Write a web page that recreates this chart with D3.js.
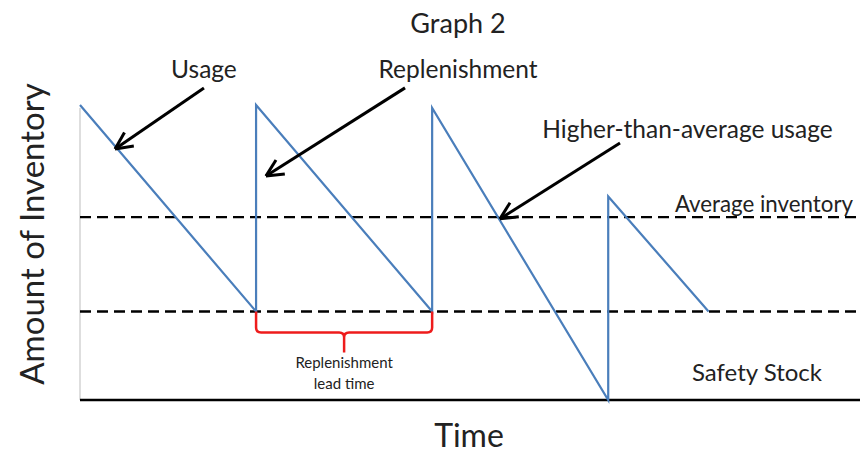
<!DOCTYPE html>
<html>
<head>
<meta charset="utf-8">
<script src="https://cdn.jsdelivr.net/npm/d3@7"></script>
<style>
  body { margin: 0; background: #fff; }
  text { font-family: Lato, "Open Sans", sans-serif; fill: #222; }
</style>
</head>
<body>
<div id="chart"></div>
<script>
// inventory over time (time in weeks, inventory in units)
const sawTime = [0, 10, 10, 20, 20, 30, 30, 35.7];
const sawLevel = [100, 30, 100, 30, 99, 0, 69, 30];
const averageInventory = 62;
const safetyStock = 30;
const leadTimeStart = 10;
const leadTimeEnd = 20;

// annotations: label position, arrow start and arrow tip (data units)
const noteLabels = ['Usage', 'Replenishment', 'Higher-than-average usage'];
const noteTextAt = [[7.04, 109.2], [21.47, 109.2], [34.5, 88.8]];
const noteFrom = [[7.04, 105.8], [18.46, 105.8], [30.67, 87.1]];
const noteTo = [[1.99, 85.1], [10.56, 75.9], [23.85, 61.4]];

const width = 860, height = 455;
const x = d3.scaleLinear().domain([0, 44.3]).range([80, 860]);
const y = d3.scaleLinear().domain([0, 100]).range([400, 105]);

const svg = d3.select('#chart').append('svg')
  .attr('width', width)
  .attr('height', height);

// title
svg.append('text')
  .attr('x', 458).attr('y', 33)
  .attr('text-anchor', 'middle')
  .style('font-size', '27px')
  .text('Graph 2');

// y axis (light grey) and baseline
svg.append('line')
  .attr('x1', x(0)).attr('x2', x(0))
  .attr('y1', y(0)).attr('y2', y(99))
  .attr('stroke', '#c8c8c8').attr('stroke-width', 1.2);

svg.append('line')
  .attr('x1', x(0)).attr('x2', x(44.3))
  .attr('y1', y(0)).attr('y2', y(0))
  .attr('stroke', '#000').attr('stroke-width', 2.5);

// dashed reference lines
[averageInventory, safetyStock].forEach(v => {
  svg.append('line')
    .attr('x1', x(0)).attr('x2', x(44.3))
    .attr('y1', y(v)).attr('y2', y(v))
    .attr('stroke', '#000').attr('stroke-width', 2.3)
    .attr('stroke-dasharray', '11,6');
});

// sawtooth
const pts = sawTime.map((t, i) => [t, sawLevel[i]]);
svg.append('path')
  .datum(pts)
  .attr('fill', 'none')
  .attr('stroke', '#4a7ebb')
  .attr('stroke-width', 2.2)
  .attr('stroke-linejoin', 'miter')
  .attr('d', d3.line().x(d => x(d[0])).y(d => y(d[1])));

// lead time brace
const bx0 = x(leadTimeStart), bx1 = x(leadTimeEnd), bm = (bx0 + bx1) / 2;
const bt = y(safetyStock), bb = bt + 21, r = 5;
const brace = d3.path();
brace.moveTo(bx0, bt);
brace.lineTo(bx0, bb - r);
brace.quadraticCurveTo(bx0, bb, bx0 + r, bb);
brace.lineTo(bm - r, bb);
brace.quadraticCurveTo(bm, bb, bm, bb + r);
brace.lineTo(bm, bb + 20);
brace.moveTo(bm, bb + r);
brace.quadraticCurveTo(bm, bb, bm + r, bb);
brace.lineTo(bx1 - r, bb);
brace.quadraticCurveTo(bx1, bb, bx1, bb - r);
brace.lineTo(bx1, bt);
svg.append('path')
  .attr('d', brace.toString())
  .attr('fill', 'none')
  .attr('stroke', '#ee1c1c')
  .attr('stroke-width', 2.5);

svg.append('text')
  .attr('x', bm).attr('y', 368)
  .attr('text-anchor', 'middle')
  .style('font-size', '15px')
  .text('Replenishment');
svg.append('text')
  .attr('x', bm).attr('y', 389)
  .attr('text-anchor', 'middle')
  .style('font-size', '15px')
  .text('lead time');

// line labels
svg.append('text')
  .attr('x', 853).attr('y', 212)
  .attr('text-anchor', 'end')
  .style('font-size', '22.3px')
  .text('Average inventory');
svg.append('text')
  .attr('x', 757).attr('y', 381)
  .attr('text-anchor', 'middle')
  .style('font-size', '24px')
  .text('Safety Stock');

// annotations with open arrowheads
noteLabels.forEach((label, i) => {
  svg.append('text')
    .attr('x', x(noteTextAt[i][0])).attr('y', y(noteTextAt[i][1]))
    .attr('text-anchor', 'middle')
    .style('font-size', '24.5px')
    .text(label);
  const sx = x(noteFrom[i][0]), sy = y(noteFrom[i][1]);
  const ex = x(noteTo[i][0]), ey = y(noteTo[i][1]);
  const ang = Math.atan2(ey - sy, ex - sx);
  const hl = 19, spread = Math.PI / 7;
  svg.append('line')
    .attr('x1', sx).attr('y1', sy).attr('x2', ex).attr('y2', ey)
    .attr('stroke', '#000').attr('stroke-width', 3);
  [-spread, spread].forEach(s => {
    svg.append('line')
      .attr('x1', ex).attr('y1', ey)
      .attr('x2', ex - hl * Math.cos(ang + s))
      .attr('y2', ey - hl * Math.sin(ang + s))
      .attr('stroke', '#000').attr('stroke-width', 3);
  });
});

// axis titles
svg.append('text')
  .attr('transform', 'translate(44,234) rotate(-90)')
  .attr('text-anchor', 'middle')
  .style('font-size', '33px')
  .text('Amount of Inventory');
svg.append('text')
  .attr('x', 469).attr('y', 447)
  .attr('text-anchor', 'middle')
  .style('font-size', '32px')
  .text('Time');
</script>
</body>
</html>
